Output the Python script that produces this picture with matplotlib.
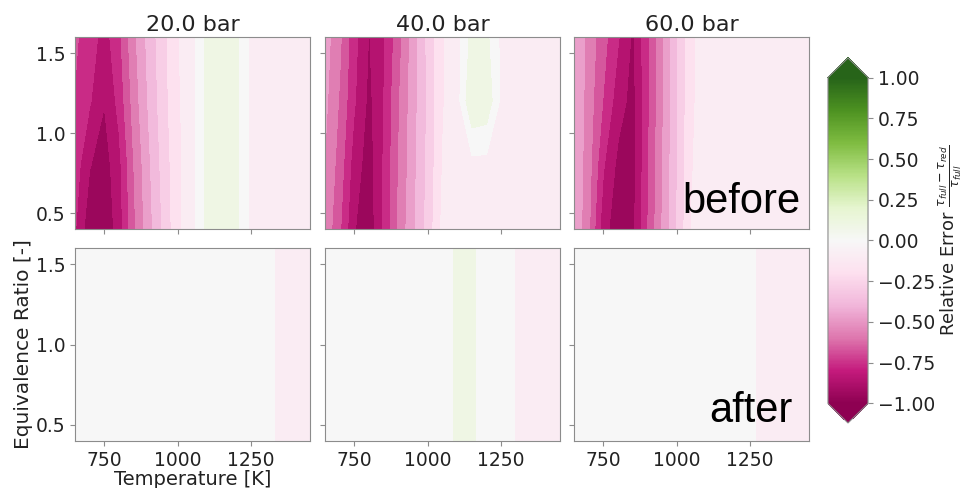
import matplotlib.pyplot as plt
import numpy as np
from matplotlib.colors import Normalize
from matplotlib.cm import ScalarMappable

# grid of the contour data
temperature = [650, 700, 750, 800, 850, 900, 950, 1000, 1050,
               1100, 1150, 1200, 1250, 1300, 1350, 1400, 1450]
phi = [0.4, 0.8, 1.2, 1.6]
pressures = ['20.0 bar', '40.0 bar', '60.0 bar']

# relative error before the fix, one row per phi value
before_20 = [
    [-0.80, -0.97, -0.98, -0.86, -0.64, -0.47, -0.32, -0.17, -0.07, 0.08, 0.08, 0.07, -0.07, -0.08, -0.08, -0.08, -0.08],
    [-0.76, -0.90, -0.95, -0.84, -0.62, -0.45, -0.30, -0.17, -0.07, 0.08, 0.08, 0.07, -0.07, -0.08, -0.08, -0.08, -0.08],
    [-0.72, -0.80, -0.90, -0.78, -0.58, -0.42, -0.28, -0.16, -0.07, 0.08, 0.08, 0.07, -0.07, -0.08, -0.08, -0.08, -0.08],
    [-0.70, -0.76, -0.85, -0.74, -0.55, -0.40, -0.27, -0.15, -0.07, 0.08, 0.08, 0.07, -0.07, -0.08, -0.08, -0.08, -0.08],
]
before_40 = [
    [-0.55, -0.70, -0.90, -0.96, -0.80, -0.60, -0.45, -0.30, -0.12, -0.09, -0.08, -0.08, -0.08, -0.08, -0.08, -0.08, -0.08],
    [-0.53, -0.66, -0.86, -0.95, -0.80, -0.62, -0.46, -0.31, -0.14, -0.09, -0.08, -0.08, -0.08, -0.08, -0.08, -0.08, -0.08],
    [-0.50, -0.63, -0.80, -0.93, -0.81, -0.63, -0.47, -0.32, -0.15, -0.09, 0.14, 0.12, -0.07, -0.08, -0.08, -0.08, -0.08],
    [-0.48, -0.60, -0.78, -0.91, -0.82, -0.66, -0.48, -0.31, -0.15, -0.09, 0.08, 0.07, -0.07, -0.08, -0.08, -0.08, -0.08],
]
before_60 = [
    [-0.44, -0.60, -0.87, -0.96, -0.93, -0.72, -0.52, -0.33, -0.14, -0.09, -0.08, -0.08, -0.08, -0.08, -0.08, -0.08, -0.08],
    [-0.44, -0.58, -0.80, -0.93, -0.95, -0.73, -0.53, -0.34, -0.15, -0.09, -0.08, -0.08, -0.08, -0.08, -0.08, -0.08, -0.08],
    [-0.43, -0.57, -0.72, -0.86, -0.94, -0.74, -0.54, -0.34, -0.16, -0.09, -0.08, -0.08, -0.08, -0.08, -0.08, -0.08, -0.08],
    [-0.42, -0.56, -0.68, -0.80, -0.92, -0.74, -0.54, -0.34, -0.16, -0.09, -0.08, -0.08, -0.08, -0.08, -0.08, -0.08, -0.08],
]

# relative error after the fix, nearly the same for every phi
after_20 = [0.0, 0.0, 0.0, 0.0, 0.0, 0.0, 0.0, 0.0, 0.0, 0.02, 0.03, 0.02, 0.0, -0.03, -0.06, -0.07, -0.07]
after_40 = [0.0, 0.0, 0.0, 0.0, 0.0, 0.0, 0.0, 0.0, 0.02, 0.06, 0.06, 0.02, 0.0, -0.05, -0.06, -0.07, -0.07]
after_60 = [0.0, 0.0, 0.0, 0.0, 0.0, 0.0, 0.0, 0.02, 0.03, 0.02, 0.0, -0.02, -0.04, -0.06, -0.06, -0.07, -0.07]

before = [before_20, before_40, before_60]
after = [after_20, after_40, after_60]

cbar_ticks = [-1.0, -0.75, -0.5, -0.25, 0.0, 0.25, 0.5, 0.75, 1.0]

levels = np.linspace(-1, 1, 22)
grey = '#8c8c8c'

fig = plt.figure(figsize=(9.65, 4.88), dpi=100)

lefts = [0.0777, 0.3368, 0.5948]
w = 0.2435
rows = [(0.5307, 0.3934), (0.0963, 0.3955)]

for r, (bottom, h) in enumerate(rows):
    for c in range(3):
        ax = fig.add_axes([lefts[c], bottom, w, h])
        if r == 0:
            Z = np.array(before[c])
        else:
            Z = np.tile(after[c], (len(phi), 1))
        ax.contourf(temperature, phi, Z, levels=levels, cmap='PiYG', extend='both')
        ax.set_xlim(650, 1450)
        ax.set_ylim(0.4, 1.6)
        ax.set_xticks([750, 1000, 1250])
        ax.set_yticks([0.5, 1.0, 1.5])
        for s in ax.spines.values():
            s.set_color(grey)
        ax.tick_params(color=grey, labelsize=13.5, labelcolor='#222222', length=3.5)
        if r == 0:
            ax.set_xticklabels([])
            ax.set_title(pressures[c], fontsize=16, color='#222222', pad=4)
        if c > 0:
            ax.set_yticklabels([])
        if r == 1 and c == 0:
            ax.set_xlabel('Temperature [K]', fontsize=14, color='#222222', labelpad=0)
            ax.set_ylabel('Equivalence Ratio [-]', fontsize=14.5, color='#222222', labelpad=2)
        if c == 2:
            if r == 0:
                ax.text(0.966, 0.083, 'before', transform=ax.transAxes, ha='right',
                        va='baseline', fontsize=30, family='Liberation Sans')
            else:
                ax.text(0.932, 0.098, 'after', transform=ax.transAxes, ha='right',
                        va='baseline', fontsize=30, family='Liberation Sans')

cax = fig.add_axes([0.858, 0.1332, 0.0415, 0.748])
cb = fig.colorbar(ScalarMappable(norm=Normalize(-1, 1), cmap='PiYG'), cax=cax,
                  extend='both', extendfrac=0.06)
cb.set_ticks(cbar_ticks)
cb.set_ticklabels([f'{t:.2f}'.replace('-', '\u2212') for t in cbar_ticks])
cb.ax.tick_params(labelsize=13.5, labelcolor='#222222', color=grey)
cb.outline.set_edgecolor(grey)
cb.set_label(r'Relative Error $\frac{\tau_{full} - \tau_{red}}{\tau_{full}}$',
             fontsize=13, color='#222222', labelpad=1)

plt.savefig('out.png', dpi=100)
